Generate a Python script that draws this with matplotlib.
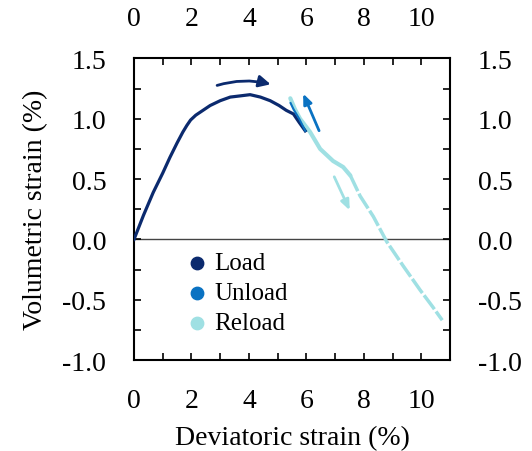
import matplotlib
matplotlib.use("Agg")
import matplotlib.pyplot as plt
from matplotlib.ticker import MultipleLocator

plt.rcParams['font.family'] = ['Liberation Serif', 'DejaVu Serif']

# strain data (%)
load_x = [0.0, 0.33, 0.67, 1.0, 1.25, 1.5, 1.7, 1.84, 1.97, 2.15, 2.4, 2.65, 3.0, 3.35, 3.7, 4.04, 4.4, 4.74, 5.05, 5.3, 5.55, 5.75, 5.96]
load_y = [0.0, 0.2, 0.39, 0.55, 0.68, 0.8, 0.89, 0.945, 0.99, 1.03, 1.07, 1.11, 1.15, 1.18, 1.19, 1.2, 1.18, 1.15, 1.11, 1.07, 1.04, 0.97, 0.9]

unload_x = [5.96, 5.75, 5.55, 5.45]
unload_y = [0.9, 1.0, 1.08, 1.13]

reload_x = [5.44, 5.6, 5.78, 6.13, 6.48, 6.93, 7.28, 7.53, 7.87, 8.33, 8.8, 9.37, 9.96, 10.4, 10.73]
reload_y = [1.17, 1.08, 1.0, 0.89, 0.75, 0.65, 0.6, 0.53, 0.36, 0.19, -0.02, -0.22, -0.42, -0.56, -0.67]

c_load = '#0b2a6e'
c_unload = '#0a72c2'
c_reload = '#9fe0e3'

fig = plt.figure(figsize=(5.32, 4.52), dpi=100)
ax = fig.add_axes([0.2519, 0.2013, 0.594, 0.6671])

ax.axhline(0, color='#444444', lw=1.0, zorder=1)

ax.plot(load_x, load_y, color=c_load, lw=2.3, zorder=3)
ax.plot(unload_x, unload_y, color=c_unload, lw=1.5, zorder=4)
n = 8  # reload points after this index look dashed
ax.plot(reload_x[:n], reload_y[:n], color=c_reload, lw=3, zorder=2, solid_capstyle='round')
ax.plot(reload_x[n - 1:], reload_y[n - 1:], color=c_reload, lw=2.5,
        linestyle=(0, (5, 0.8)), zorder=2)

# direction arrows
ax.annotate('', xy=(4.85, 1.28), xytext=(2.8, 1.27),
            arrowprops=dict(arrowstyle='-|>,head_length=0.7,head_width=0.35',
                            color=c_load, lw=2, connectionstyle='arc3,rad=-0.15'))
ax.annotate('', xy=(5.85, 1.23), xytext=(6.48, 0.88),
            arrowprops=dict(arrowstyle='-|>,head_length=0.6,head_width=0.25',
                            color=c_unload, lw=2))
ax.annotate('', xy=(7.55, 0.22), xytext=(6.93, 0.54),
            arrowprops=dict(arrowstyle='-|>,head_length=0.6,head_width=0.25',
                            color=c_reload, lw=2))

# legend with dot markers
for lab, c in [('Load', c_load), ('Unload', c_unload), ('Reload', c_reload)]:
    ax.scatter([], [], s=80, color=c, label=lab)
ax.legend(loc='lower left', bbox_to_anchor=(0.095, 0.028),
          frameon=False, fontsize=18, handletextpad=0.1, labelspacing=0.3,
          scatterpoints=1, borderpad=0.2, handlelength=1.2)

ax.set_xlim(0, 11)
ax.set_ylim(-1.0, 1.5)
ax.xaxis.set_major_locator(MultipleLocator(2))
ax.xaxis.set_minor_locator(MultipleLocator(1))
ax.yaxis.set_major_locator(MultipleLocator(0.5))
ax.yaxis.set_minor_locator(MultipleLocator(0.25))
ax.yaxis.set_major_formatter(plt.FuncFormatter(lambda v, p: f'{v:.1f}'))
ax.tick_params(which='both', direction='in', length=5, width=1.2,
               top=True, right=True, labeltop=True, labelright=True,
               labelsize=20, pad=20)
for s in ax.spines.values():
    s.set_linewidth(1.5)

ax.set_xlabel('Deviatoric strain (%)', fontsize=20, labelpad=9)
ax.set_ylabel('Volumetric strain (%)', fontsize=20, labelpad=10)

fig.savefig('out.png', dpi=100)
